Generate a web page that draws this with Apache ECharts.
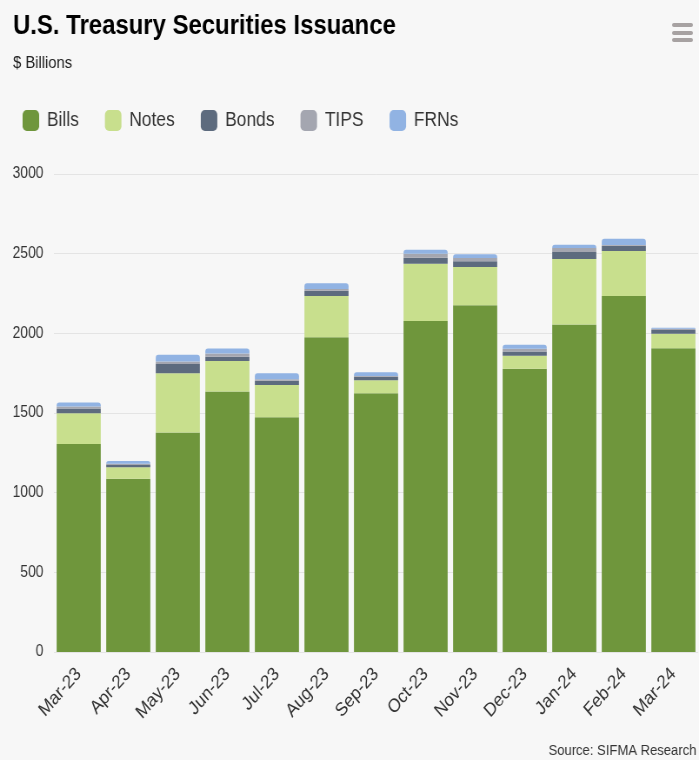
<!DOCTYPE html>
<html>
<head>
<meta charset="utf-8">
<script src="https://cdn.jsdelivr.net/npm/echarts@6/dist/echarts.min.js"></script>
<style>
  html, body { margin: 0; padding: 0; background: #f7f7f7; overflow: hidden; }
  /* the chart is laid out wide and narrowed horizontally, like the condensed source graphic */
  #wrap { width: 804px; height: 760px; transform: scaleX(0.8694); transform-origin: 0 0; }
  #chart { width: 804px; height: 760px; }
</style>
</head>
<body>
<div id="wrap"><div id="chart"></div></div>
<script>
// Monthly issuance, $ billions
const months = ['Mar-23', 'Apr-23', 'May-23', 'Jun-23', 'Jul-23', 'Aug-23', 'Sep-23',
                'Oct-23', 'Nov-23', 'Dec-23', 'Jan-24', 'Feb-24', 'Mar-24'];
const bills = [1306, 1088, 1377, 1635, 1473, 1976, 1624, 2078, 2176, 1777, 2055, 2235, 1906];
const notes = [193, 72, 373, 191, 203, 259, 82, 358, 240, 82, 411, 281, 92];
const bonds = [29, 14, 58, 27, 27, 33, 21, 38, 36, 27, 44, 33, 23];
const tips  = [13, 8, 16, 21, 9, 11, 6, 25, 21, 17, 25, 6, 8];
const frns  = [25, 17, 42, 31, 38, 36, 23, 25, 23, 25, 21, 38, 6];
const yTicks = { min: 0, max: 3000, interval: 500 };

const FONT = 'Liberation Sans, Arial, sans-serif';
const colors = {
  Bills: '#6f963c',
  Notes: '#c8df8d',
  Bonds: '#5d6b7e',
  TIPS: '#a4a6b0',
  FRNs: '#91b3e3'
};

const seriesDefs = [
  ['Bills', bills],
  ['Notes', notes],
  ['Bonds', bonds],
  ['TIPS', tips],
  ['FRNs', frns]
];

const chart = echarts.init(document.getElementById('chart'), null, { renderer: 'canvas' });

chart.setOption({
  backgroundColor: '#f7f7f7',
  animation: false,
  title: [
    {
      text: 'U.S. Treasury Securities Issuance',
      left: 10, top: 7,
      textStyle: { fontFamily: FONT, fontSize: 27.5, fontWeight: 'bold', color: '#000' }
    },
    {
      text: '$ Billions',
      left: 10, top: 50,
      textStyle: { fontFamily: FONT, fontSize: 17, fontWeight: 'normal', color: '#222' }
    },
    {
      text: 'Source: SIFMA Research',
      right: -2, top: 738,
      textStyle: { fontFamily: FONT, fontSize: 15, fontWeight: 'normal', color: '#333' }
    }
  ],
  legend: {
    left: 21, top: 105,
    itemWidth: 19, itemHeight: 21,
    itemGap: 30,
    icon: 'roundRect',
    textStyle: { fontFamily: FONT, fontSize: 20, color: '#333', padding: [0, 0, 0, 4] },
    data: seriesDefs.map(d => d[0])
  },
  grid: { left: 62, right: 1, top: 174, bottom: 108, containLabel: false },
  xAxis: {
    type: 'category',
    data: months,
    axisLine: { show: false },
    axisTick: { show: false },
    axisLabel: {
      rotate: 45, margin: 19, interval: 0,
      fontFamily: FONT, fontSize: 19, color: '#333'
    }
  },
  yAxis: {
    type: 'value',
    min: yTicks.min, max: yTicks.max, interval: yTicks.interval,
    axisLine: { show: false },
    axisTick: { show: false },
    splitLine: { lineStyle: { color: '#e4e4e4', width: 1 } },
    axisLabel: {
      margin: 12, fontFamily: FONT, fontSize: 16, color: '#333',
      formatter: v => String(v)
    }
  },
  series: seriesDefs.map(([name, values], i) => ({
    name,
    type: 'bar',
    stack: 'total',
    barWidth: '89%',
    data: values,
    itemStyle: {
      color: colors[name],
      borderRadius: i === seriesDefs.length - 1 ? [3, 3, 0, 0] : 0
    },
    emphasis: { disabled: true }
  })),
  graphic: [
    // menu icon in the top-right corner
    { type: 'rect', left: 773, top: 23, shape: { width: 24, height: 4, r: 2 }, style: { fill: '#a7a2a2' } },
    { type: 'rect', left: 773, top: 31, shape: { width: 24, height: 4, r: 2 }, style: { fill: '#a7a2a2' } },
    { type: 'rect', left: 773, top: 38, shape: { width: 24, height: 4, r: 2 }, style: { fill: '#a7a2a2' } }
  ]
});
</script>
</body>
</html>
